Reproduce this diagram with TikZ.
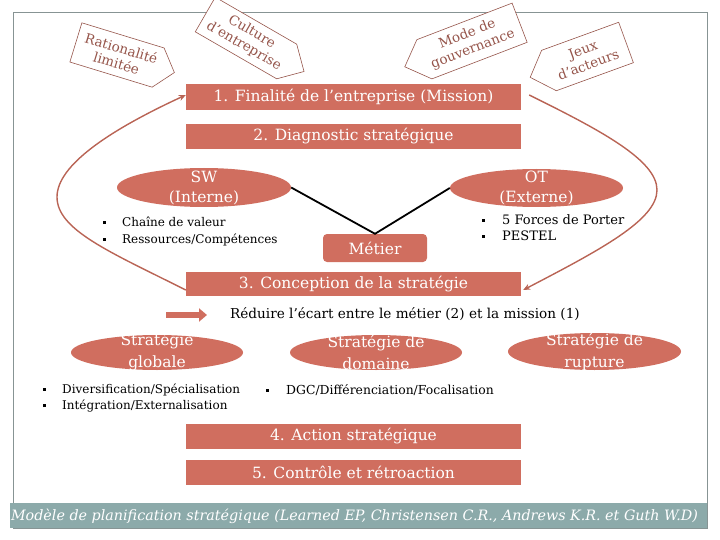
\documentclass[tikz,border=0pt]{standalone}
\usepackage{fontspec}
\setmainfont{DejaVu Serif}
\usetikzlibrary{shapes.geometric,arrows.meta}
\definecolor{boxc}{RGB}{208,110,95}
\definecolor{tagc}{RGB}{150,85,75}
\definecolor{loopc}{RGB}{185,100,85}
\definecolor{framec}{RGB}{135,148,148}
\definecolor{capc}{RGB}{140,170,170}
\newcommand\bul{\rule[0.22em]{3pt}{3pt}}
\begin{document}
\begin{tikzpicture}[x=1pt,y=-1pt,
  mainbox/.style={fill=boxc, minimum width=335pt, minimum height=25pt, inner sep=0pt, text=white, font=\fontsize{15.5}{18}\selectfont},
  ovalbox/.style={ellipse, fill=boxc, inner sep=0pt},
  ovaltext/.style={text=white, align=center, inner sep=0pt, font=\fontsize{15.5}{20}\selectfont},
  stratext/.style={text=white, align=center, inner sep=0pt, font=\fontsize{15.5}{22}\selectfont},
  listtext/.style={align=left, inner sep=0pt, anchor=west, font=\fontsize{12}{16.5}\selectfont},
  tagline/.style={draw=tagc, fill=white, line width=0.6pt},
  tagtext/.style={text=tagc, align=center, inner sep=0pt, transform shape, font=\fontsize{13.5}{16}\selectfont},
  loopline/.style={draw=loopc, line width=1.4pt, -{Stealth[length=7pt,width=6pt]}},
  blackline/.style={draw=black, line width=1.8pt},
  fatarrow/.style={draw=boxc, line width=6.5pt, -{Triangle[length=8pt,width=13pt]}}
]
\useasboundingbox (0,0) rectangle (720,540);
% frame and caption bar
\draw[framec, line width=0.8pt] (13,12) rectangle (707,528);
\node[fill=capc, minimum width=697pt, minimum height=25pt, inner sep=0pt] (capbar) at (358.5,515.5) {};
\node[text=white, inner sep=0pt, font=\fontsize{14.3}{16}\selectfont\itshape] (captext) at (354.5,516) {Modèle de planification stratégique (Learned EP, Christensen C.R., Andrews K.R. et Guth W.D)};
% tags
\begin{scope}[shift={(117,55)}, rotate=-17]
  \draw[tagline] (-43,-20.5) -- (43,-20.5) -- (60,0) -- (43,20.5) -- (-43,20.5) -- cycle;
  \node[tagtext] (rat) at (2,0) {Rationalité\\limitée};
\end{scope}
\begin{scope}[shift={(246,38)}, rotate=-30]
  \draw[tagline] (-47,-20) -- (47,-20) -- (67,0) -- (47,20) -- (-47,20) -- cycle;
  \node[tagtext] (cult) at (2,0) {Culture\\d'entreprise};
\end{scope}
\begin{scope}[shift={(472,41)}, rotate=21]
  \draw[tagline] (-51,-21) -- (51,-21) -- (51,21) -- (-51,21) -- (-72,0) -- cycle;
  \node[tagtext] (mode) at (-2,0) {Mode de\\gouvernance};
\end{scope}
\begin{scope}[shift={(587.5,56.5)}, rotate=20]
  \draw[tagline] (-41,-21.5) -- (41,-21.5) -- (41,21.5) -- (-41,21.5) -- (-61,0) -- cycle;
  \node[tagtext] (jeux) at (-2,0) {Jeux\\d'acteurs};
\end{scope}
% main boxes
\node[mainbox, minimum height=26pt] (b1) at (353.5,97) {1. Finalité de l'entreprise (Mission)};
\node[mainbox] (b2) at (353.5,136.5) {2. Diagnostic stratégique};
\node[mainbox, minimum height=24pt] (b3) at (353.5,284) {3. Conception de la stratégie};
\node[mainbox] (b4) at (353.5,436.5) {4. Action stratégique};
\node[mainbox] (b5) at (353.5,472) {5. Contrôle et rétroaction};
% diagnostic
\node[ovalbox, minimum width=174pt, minimum height=39pt] (sw) at (204,187.5) {};
\node[ovalbox, minimum width=173pt, minimum height=38pt] (ot) at (536.5,188) {};
\node[fill=boxc, rounded corners=4pt, minimum width=104pt, minimum height=28pt, inner sep=0pt, text=white, font=\fontsize{15.5}{18}\selectfont] (metier) at (375,248) {Métier};
\draw[blackline] (sw.east) -- (metier.north) -- (ot.west);
\node[ovaltext] (swt) at (204,188) {SW\\(Interne)};
\node[ovaltext] (ott) at (536.5,188) {OT\\(Externe)};
\node[listtext] (swl) at (103,231.5) {\bul\hspace{16pt}Chaîne de valeur\\\bul\hspace{16pt}Ressources/Compétences};
\node[listtext, font=\fontsize{13}{16}\selectfont] (otl) at (482,228) {\bul\hspace{17pt}5 Forces de Porter\\\bul\hspace{17pt}PESTEL};
% conception
\coordinate (ra) at (166,315);
\coordinate (rb) at (207,315);
\draw[fatarrow] (ra) -- (rb);
\node[inner sep=0pt, anchor=west, font=\fontsize{13.6}{16}\selectfont] (red) at (230,314) {Réduire l'écart entre le métier (2) et la mission (1)};
\node[ovalbox, minimum width=172pt, minimum height=35pt] (sg) at (157,352.5) {};
\node[ovalbox, minimum width=172pt, minimum height=35pt] (sd) at (376,352.5) {};
\node[ovalbox, minimum width=173pt, minimum height=37pt] (sr) at (594.5,351.5) {};
\node[stratext] (sgt) at (157,352) {Stratégie\\globale};
\node[stratext] (sdt) at (376,352) {Stratégie de\\domaine};
\node[stratext] (srt) at (594.5,352) {Stratégie de\\rupture};
\node[listtext] (sgl) at (43,398) {\bul\hspace{16pt}Diversification/Spécialisation\\\bul\hspace{16pt}Intégration/Externalisation};
\node[listtext, font=\fontsize{12.4}{16}\selectfont] (sdl) at (266,390) {\bul\hspace{17pt}DGC/Différenciation/Focalisation};
% loops
\draw[loopline] ([yshift=-6pt]b3.west) .. controls (110,252) and (57,230) .. (57,197) .. controls (57,165) and (110,130) .. ([yshift=2pt]b1.west);
\draw[loopline] ([xshift=8pt,yshift=2pt]b1.east) .. controls (600,130) and (657,160) .. (657,190) .. controls (657,220) and (600,250) .. ([xshift=2pt,yshift=-6pt]b3.east);
\end{tikzpicture}
\end{document}
